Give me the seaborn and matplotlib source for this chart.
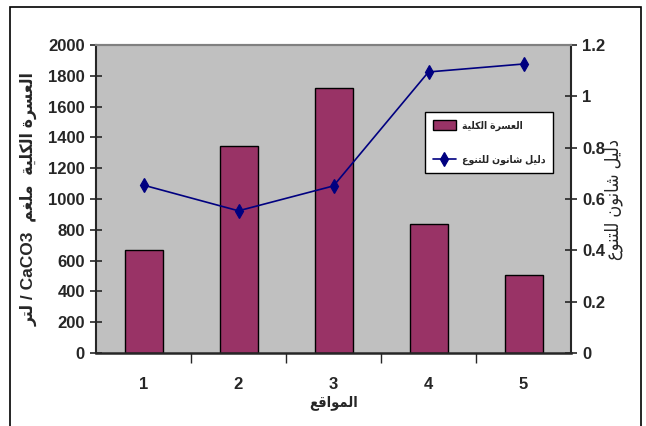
import numpy as np
import pandas as pd
import matplotlib
matplotlib.use("Agg")
import matplotlib.pyplot as plt
from matplotlib.patches import Rectangle
from matplotlib.ticker import FixedLocator
from matplotlib.font_manager import FontProperties
import seaborn as sns

# ---- data ----
sites = ["1", "2", "3", "4", "5"]
hardness = [670, 1345, 1720, 838, 508]          # total hardness, mg CaCO3 / L
shannon = [0.654, 0.554, 0.651, 1.095, 1.126]   # Shannon diversity index

left_ticks = [0, 200, 400, 600, 800, 1000, 1200, 1400, 1600, 1800, 2000]
right_ticks = [0, 0.2, 0.4, 0.6, 0.8, 1.0, 1.2]
right_tick_labels = ["0", "0.2", "0.4", "0.6", "0.8", "1", "1.2"]

# ---- minimal Arabic shaping (presentation forms) for matplotlib ----
# (isolated, final, initial, medial); None = letter does not join forward
FORMS = {
    "ا": ("\uFE8D", "\uFE8E", None, None),
    "د": ("\uFEA9", "\uFEAA", None, None),
    "ر": ("\uFEAD", "\uFEAE", None, None),
    "و": ("\uFEED", "\uFEEE", None, None),
    "ة": ("\uFE93", "\uFE94", None, None),
    "ت": ("\uFE95", "\uFE96", "\uFE97", "\uFE98"),
    "س": ("\uFEB1", "\uFEB2", "\uFEB3", "\uFEB4"),
    "ش": ("\uFEB5", "\uFEB6", "\uFEB7", "\uFEB8"),
    "ع": ("\uFEC9", "\uFECA", "\uFECB", "\uFECC"),
    "غ": ("\uFECD", "\uFECE", "\uFECF", "\uFED0"),
    "ق": ("\uFED5", "\uFED6", "\uFED7", "\uFED8"),
    "ك": ("\uFED9", "\uFEDA", "\uFEDB", "\uFEDC"),
    "ل": ("\uFEDD", "\uFEDE", "\uFEDF", "\uFEE0"),
    "م": ("\uFEE1", "\uFEE2", "\uFEE3", "\uFEE4"),
    "ن": ("\uFEE5", "\uFEE6", "\uFEE7", "\uFEE8"),
    "ي": ("\uFEF1", "\uFEF2", "\uFEF3", "\uFEF4"),
}


def shape(text):
    out = []
    for i, ch in enumerate(text):
        f = FORMS.get(ch)
        if f is None:
            out.append(ch)
            continue
        prev = text[i - 1] if i > 0 else None
        nxt = text[i + 1] if i + 1 < len(text) else None
        join_prev = prev in FORMS and FORMS[prev][2] is not None
        join_next = nxt in FORMS and f[2] is not None
        if join_prev and join_next:
            out.append(f[3])
        elif join_prev:
            out.append(f[1])
        elif join_next:
            out.append(f[2])
        else:
            out.append(f[0])
    return "".join(out)


def ar(text):
    """Shape an Arabic phrase and return it in visual (left-to-right) order."""
    return shape(text)[::-1]


hardness_name = "العسرة الكلية"
shannon_name = "دليل شانون للتنوع"
x_title = "المواقع"
left_title = ar("لتر") + " / CaCO3  " + ar("العسرة الكلية  ملغم")

df = pd.DataFrame({"site": sites, "hardness": hardness, "shannon": shannon})

# ---- styling ----
sns.set_style("white")
latin = ["Liberation Sans", "DejaVu Sans"]
plt.rcParams["font.family"] = latin

BAR = "#993366"
LINE = "#000080"
BG = "#C0C0C0"

fig = plt.figure(figsize=(6.46, 4.26), dpi=100)
ax = fig.add_axes([96 / 646, 73 / 426, 475 / 646, 308 / 426])
ax.set_facecolor(BG)

sns.barplot(data=df, x="site", y="hardness", order=sites, color=BAR,
            saturation=1, width=0.4, edgecolor="black", linewidth=1.0,
            ax=ax, label=ar(hardness_name))

ax2 = ax.twinx()
sns.pointplot(data=df, x="site", y="shannon", order=sites, color=LINE,
              markers="d", markersize=7, linewidth=1.2, errorbar=None,
              ax=ax2, label=ar(shannon_name))

ax.set_xlim(-0.5, 4.5)
ax.set_ylim(0, 2000)
ax2.set_ylim(0, 1.2)

TICK_SIZE = 12

# left axis ticks
ax.set_yticks(left_ticks)
ax.set_yticklabels([str(t) for t in left_ticks])
ax.tick_params(axis="y", direction="inout", length=8, width=1.2, pad=4,
               labelsize=TICK_SIZE, left=True)
for t in ax.get_yticklabels():
    t.set_fontweight("bold")

# right axis ticks
ax2.set_yticks(right_ticks)
ax2.set_yticklabels(right_tick_labels)
ax2.tick_params(axis="y", direction="inout", length=8, width=1.2, pad=4,
                labelsize=TICK_SIZE, right=True)
for t in ax2.get_yticklabels():
    t.set_fontweight("bold")

# category labels centred, tick marks between categories
ax.tick_params(axis="x", which="major", length=0, pad=17, labelsize=TICK_SIZE)
for t in ax.get_xticklabels():
    t.set_fontweight("bold")
ax.xaxis.set_minor_locator(FixedLocator([0.5, 1.5, 2.5, 3.5]))
ax.tick_params(axis="x", which="minor", direction="out", length=7,
               width=1.0, bottom=True)

# spines
for a in (ax, ax2):
    a.spines["top"].set_color("#808080")
    a.spines["top"].set_linewidth(1.5)
ax.spines["left"].set_linewidth(1.5)
ax.spines["bottom"].set_linewidth(1.8)
ax.spines["right"].set_visible(False)
ax2.spines["left"].set_visible(False)
ax2.spines["bottom"].set_visible(False)
ax2.spines["right"].set_linewidth(1.5)
for s in ax.spines.values():
    s.set_zorder(5)

cond_bold = FontProperties(family=latin, weight="bold", stretch="condensed")

ax.set_xlabel(ar(x_title), fontproperties=cond_bold.copy())
ax.xaxis.label.set_fontsize(10.5)
ax.xaxis.set_label_coords(0.5, -0.138)

ax.set_ylabel(left_title, fontproperties=cond_bold.copy())
ax.yaxis.label.set_fontsize(12.5)
ax.yaxis.set_label_coords(-0.122, 0.5)

ax2.set_ylabel(ar(shannon_name),
               fontproperties=FontProperties(family=latin, stretch="condensed",
                                             size=13))
ax2.yaxis.set_label_coords(1.07, 0.5)

# legend
if ax.get_legend():
    ax.get_legend().remove()
if ax2.get_legend():
    ax2.get_legend().remove()
h1, l1 = ax.get_legend_handles_labels()
h2, l2 = ax2.get_legend_handles_labels()
leg_font = FontProperties(family=latin, weight="bold", stretch="condensed",
                          size=7.5)
leg = ax2.legend(h1 + h2, l1 + l2, loc="upper left",
                 bbox_to_anchor=(425 / 646, 1 - 112 / 426),
                 bbox_transform=fig.transFigure, markerfirst=True,
                 frameon=True, fancybox=False, framealpha=1,
                 edgecolor="black", facecolor="white", prop=leg_font,
                 handlelength=2.2, handleheight=1.1, labelspacing=2.3,
                 borderpad=0.75, handletextpad=0.6, borderaxespad=0)
leg.get_frame().set_linewidth(1.0)

# outer chart frame
fig.add_artist(Rectangle((10 / 646, -0.05), 631 / 646, 1.05 - 7 / 426,
                         transform=fig.transFigure, fill=False,
                         edgecolor="black", linewidth=1.2))

fig.savefig("out.png", dpi=100)
